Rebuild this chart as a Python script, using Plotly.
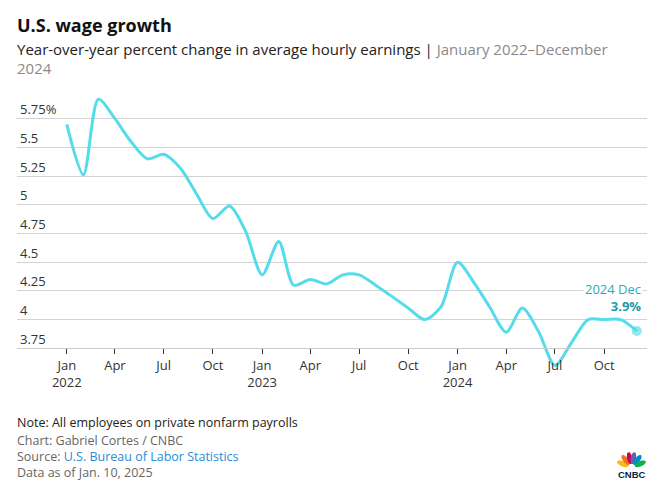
import math
import plotly.graph_objects as go

# ---------------- data ----------------
months = [f"{y}-{m:02d}-01" for y in (2022, 2023, 2024) for m in range(1, 13)]
wage_growth = [
    5.70, 5.26, 5.92, 5.75, 5.55, 5.40, 5.44, 5.32, 5.09, 4.88, 4.99, 4.77,   # 2022
    4.39, 4.68, 4.30, 4.35, 4.31, 4.39, 4.39, 4.30, 4.20, 4.10, 4.00, 4.11,   # 2023
    4.50, 4.32, 4.11, 3.89, 4.10, 3.89, 3.60, 3.80, 4.00, 4.00, 4.00, 3.90,   # 2024
]
x_tick_vals = ["2022-01-01", "2022-04-01", "2022-07-01", "2022-10-01",
               "2023-01-01", "2023-04-01", "2023-07-01", "2023-10-01",
               "2024-01-01", "2024-04-01", "2024-07-01", "2024-10-01"]
x_tick_text = ["Jan<br>2022", "Apr", "Jul", "Oct",
               "Jan<br>2023", "Apr", "Jul", "Oct",
               "Jan<br>2024", "Apr", "Jul", "Oct"]
y_tick_vals = [3.75, 4, 4.25, 4.5, 4.75, 5, 5.25, 5.5, 5.75]
y_tick_text = ["3.75", "4", "4.25", "4.5", "4.75", "5", "5.25", "5.5", "5.75%"]
last_label = "2024 Dec"

# ---------------- layout constants ----------------
W, H = 656, 488
ML, MR, MT, MB = 17, 9, 90, 111
Y_RANGE = [3.5, 6.0]
FONT = "Open Sans"
LINE_COLOR = "#55dcea"
TEXT_DARK = "#222222"
TEXT_GRAY = "#666666"

plot_w = W - ML - MR
plot_h = H - MT - MB


def px_x(x):
    return (x - ML) / plot_w


def px_y(y):
    return (H - MB - y) / plot_h


fig = go.Figure()
fig.add_trace(go.Scatter(
    x=months, y=wage_growth, mode="lines",
    line=dict(color=LINE_COLOR, width=3, shape="spline", smoothing=0.8),
    hoverinfo="skip", showlegend=False,
))
fig.add_trace(go.Scatter(
    x=[months[-1]], y=[wage_growth[-1]], mode="markers",
    marker=dict(color="rgba(85,220,234,0.65)", size=10),
    hoverinfo="skip", showlegend=False, cliponaxis=False,
))

annotations = []
# end label
annotations.append(dict(
    x=months[-1], y=wage_growth[-1], xref="x", yref="y",
    xanchor="right", yanchor="bottom", xshift=6, yshift=14,
    align="right", showarrow=False, bgcolor="white", borderpad=1,
    text=(f"<span style='color:#2aabbb'>{last_label}</span><br>"
          f"<span style='color:#1b9cac'><b>{wage_growth[-1]:.1f}%</b></span>"),
    font=dict(family=FONT, size=13),
))
# title
annotations.append(dict(
    x=px_x(15), y=px_y(25), xref="paper", yref="paper", xanchor="left", yanchor="middle",
    text="<b>U.S. wage growth</b>", showarrow=False,
    font=dict(family=FONT, size=18, color="#111111"),
))
annotations.append(dict(
    x=px_x(15), y=px_y(49), xref="paper", yref="paper", xanchor="left", yanchor="middle",
    text=("Year-over-year percent change in average hourly earnings | "
          "<span style='color:#8a8a8a'>January 2022–December</span>"),
    showarrow=False, font=dict(family=FONT, size=15, color=TEXT_DARK),
))
annotations.append(dict(
    x=px_x(15), y=px_y(68), xref="paper", yref="paper", xanchor="left", yanchor="middle",
    text="2024", showarrow=False, font=dict(family=FONT, size=15, color="#8a8a8a"),
))
# footer
footer = [
    ("Note: All employees on private nonfarm payrolls", TEXT_DARK, 422),
    ("Chart: Gabriel Cortes / CNBC", TEXT_GRAY, 440),
    ("Source: <span style='color:#2a8dd4'>U.S. Bureau of Labor Statistics</span>", TEXT_GRAY, 456.5),
    ("Data as of Jan. 10, 2025", TEXT_GRAY, 472.5),
]
for txt, col, ypx in footer:
    annotations.append(dict(
        x=px_x(15), y=px_y(ypx), xref="paper", yref="paper", xanchor="left", yanchor="middle",
        text=txt, showarrow=False, font=dict(family=FONT, size=12.5, color=col),
    ))
# CNBC wordmark
annotations.append(dict(
    x=px_x(631.7), y=px_y(474), xref="paper", yref="paper", xanchor="center", yanchor="middle",
    text="<b>CNBC</b>", showarrow=False,
    font=dict(family="Liberation Sans", size=9.5, color="#0b1f3f"),
))

# peacock feathers (decorative logo)
shapes = []
hub_x, hub_y = 631.5, 467.5
feathers = [(157, "#fcb711"), (128, "#f37021"), (101, "#cc004c"),
            (79, "#6460aa"), (52, "#0089d0"), (23, "#0db14b")]
for ang, col in feathers:
    a = math.radians(ang)
    cx, cy = hub_x + 9.5 * math.cos(a), hub_y - 9.5 * math.sin(a)
    pts = []
    for k in range(24):
        t = 2 * math.pi * k / 24
        u, v = 6.0 * math.cos(t), 2.6 * math.sin(t)
        x = cx + u * math.cos(a) - v * math.sin(a)
        y = cy - (u * math.sin(a) + v * math.cos(a))
        pts.append(f"{px_x(x):.5f},{px_y(y):.5f}")
    shapes.append(dict(type="path", xref="paper", yref="paper",
                       path="M" + " L".join(pts) + " Z",
                       fillcolor=col, line=dict(width=0), layer="above"))

fig.update_layout(
    width=W, height=H,
    margin=dict(l=ML, r=MR, t=MT, b=MB, pad=0),
    paper_bgcolor="white", plot_bgcolor="white",
    font=dict(family=FONT, color="#333333"),
    annotations=annotations, shapes=shapes,
    xaxis=dict(
        type="date", range=["2021-09-30", "2024-12-20"],
        tickmode="array", tickvals=x_tick_vals, ticktext=x_tick_text,
        ticks="outside", ticklen=5, tickwidth=1, tickcolor="#333333",
        showline=True, linecolor="#cccccc", linewidth=1,
        showgrid=False, zeroline=False,
        anchor="free", position=(3.75 - Y_RANGE[0]) / (Y_RANGE[1] - Y_RANGE[0]),
        tickfont=dict(family=FONT, size=13, color="#333333"),
        fixedrange=True,
    ),
    yaxis=dict(
        range=Y_RANGE, tickmode="array", tickvals=y_tick_vals, ticktext=y_tick_text,
        ticks="", ticklabelposition="inside top",
        showgrid=True, gridcolor="#d3d3d3", gridwidth=1,
        zeroline=False, showline=False,
        tickfont=dict(family=FONT, size=13, color="#333333"),
        fixedrange=True,
    ),
)

fig.write_html("out.html", post_script="document.body.style.margin='0';",
               config={"displayModeBar": False})
